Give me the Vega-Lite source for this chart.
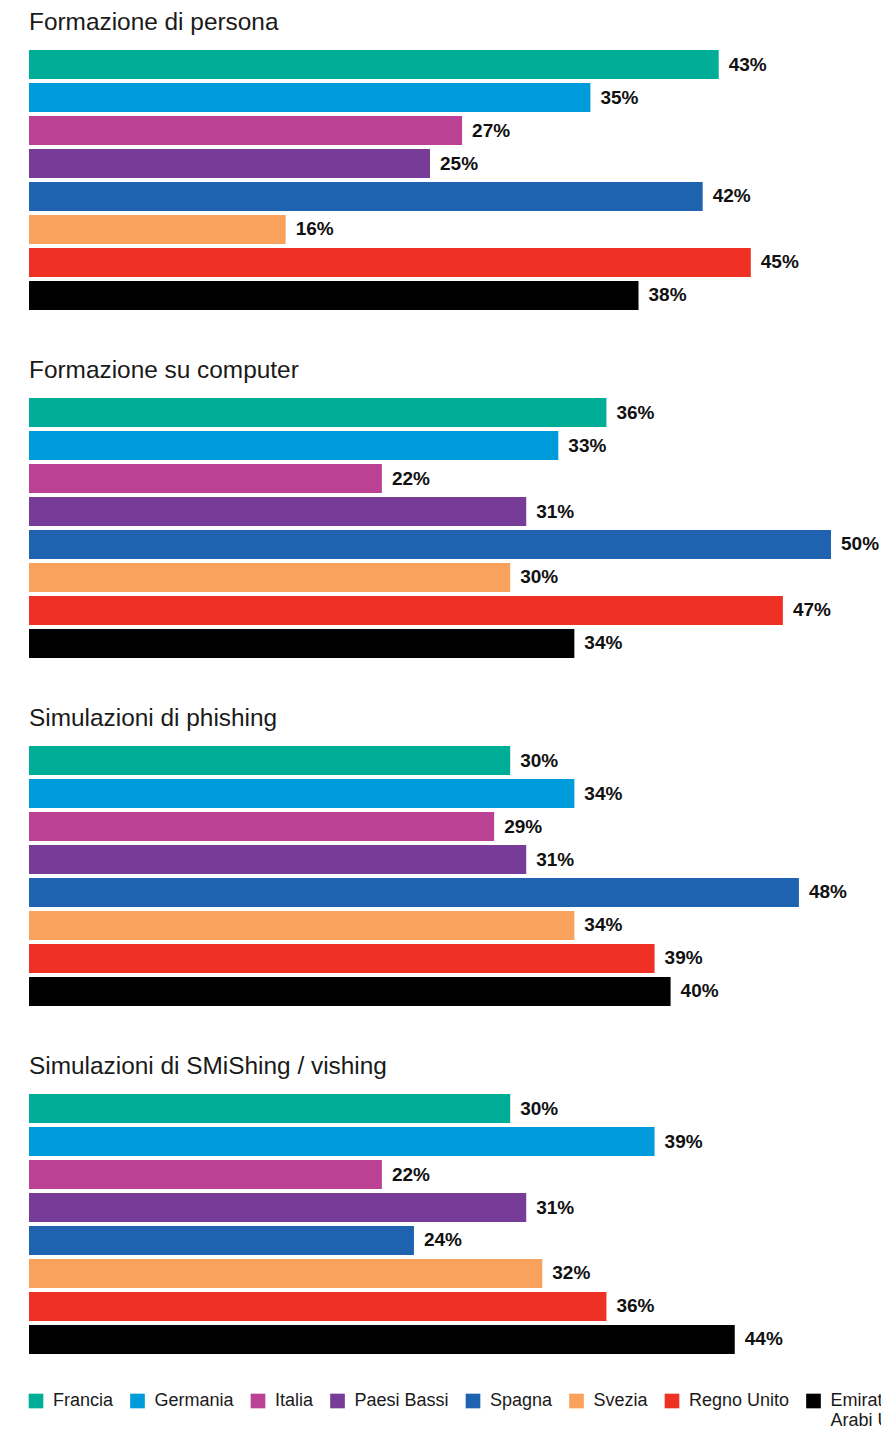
{
  "$schema": "https://vega.github.io/schema/vega-lite/v6.json",
  "padding": {"left": 29, "top": 9, "right": 0, "bottom": 0},
  "background": "white",
  "data": {"values": [
    {"categoria": "Formazione di persona", "paese": "Francia", "valore": 0.43},
    {"categoria": "Formazione di persona", "paese": "Germania", "valore": 0.35},
    {"categoria": "Formazione di persona", "paese": "Italia", "valore": 0.27},
    {"categoria": "Formazione di persona", "paese": "Paesi Bassi", "valore": 0.25},
    {"categoria": "Formazione di persona", "paese": "Spagna", "valore": 0.42},
    {"categoria": "Formazione di persona", "paese": "Svezia", "valore": 0.16},
    {"categoria": "Formazione di persona", "paese": "Regno Unito", "valore": 0.45},
    {"categoria": "Formazione di persona", "paese": "Emirati Arabi Uniti", "valore": 0.38},
    {"categoria": "Formazione su computer", "paese": "Francia", "valore": 0.36},
    {"categoria": "Formazione su computer", "paese": "Germania", "valore": 0.33},
    {"categoria": "Formazione su computer", "paese": "Italia", "valore": 0.22},
    {"categoria": "Formazione su computer", "paese": "Paesi Bassi", "valore": 0.31},
    {"categoria": "Formazione su computer", "paese": "Spagna", "valore": 0.50},
    {"categoria": "Formazione su computer", "paese": "Svezia", "valore": 0.30},
    {"categoria": "Formazione su computer", "paese": "Regno Unito", "valore": 0.47},
    {"categoria": "Formazione su computer", "paese": "Emirati Arabi Uniti", "valore": 0.34},
    {"categoria": "Simulazioni di phishing", "paese": "Francia", "valore": 0.30},
    {"categoria": "Simulazioni di phishing", "paese": "Germania", "valore": 0.34},
    {"categoria": "Simulazioni di phishing", "paese": "Italia", "valore": 0.29},
    {"categoria": "Simulazioni di phishing", "paese": "Paesi Bassi", "valore": 0.31},
    {"categoria": "Simulazioni di phishing", "paese": "Spagna", "valore": 0.48},
    {"categoria": "Simulazioni di phishing", "paese": "Svezia", "valore": 0.34},
    {"categoria": "Simulazioni di phishing", "paese": "Regno Unito", "valore": 0.39},
    {"categoria": "Simulazioni di phishing", "paese": "Emirati Arabi Uniti", "valore": 0.40},
    {"categoria": "Simulazioni di SMiShing / vishing", "paese": "Francia", "valore": 0.30},
    {"categoria": "Simulazioni di SMiShing / vishing", "paese": "Germania", "valore": 0.39},
    {"categoria": "Simulazioni di SMiShing / vishing", "paese": "Italia", "valore": 0.22},
    {"categoria": "Simulazioni di SMiShing / vishing", "paese": "Paesi Bassi", "valore": 0.31},
    {"categoria": "Simulazioni di SMiShing / vishing", "paese": "Spagna", "valore": 0.24},
    {"categoria": "Simulazioni di SMiShing / vishing", "paese": "Svezia", "valore": 0.32},
    {"categoria": "Simulazioni di SMiShing / vishing", "paese": "Regno Unito", "valore": 0.36},
    {"categoria": "Simulazioni di SMiShing / vishing", "paese": "Emirati Arabi Uniti", "valore": 0.44}
  ]},
  "facet": {
    "row": {
      "field": "categoria", "type": "nominal",
      "sort": ["Formazione di persona", "Formazione su computer", "Simulazioni di phishing", "Simulazioni di SMiShing / vishing"],
      "header": {"title": null, "labelOrient": "top", "labelAngle": 0, "labelAlign": "left", "labelAnchor": "start", "labelFontSize": 24.4, "labelFont": "Liberation Sans", "labelColor": "#1a1a1a", "labelPadding": -9}
    }
  },
  "spacing": {"row": 47},
  "spec": {
    "width": 802,
    "height": 260,
    "encoding": {
      "y": {"field": "paese", "type": "nominal", "axis": null,
        "sort": ["Francia", "Germania", "Italia", "Paesi Bassi", "Spagna", "Svezia", "Regno Unito", "Emirati Arabi Uniti"],
        "scale": {"paddingInner": 0.12, "paddingOuter": 0}},
      "x": {"field": "valore", "type": "quantitative", "axis": null, "scale": {"domain": [0, 0.5]}}
    },
    "layer": [
      {"mark": {"type": "bar"},
       "encoding": {"color": {"field": "paese", "type": "nominal",
         "scale": {"domain": ["Francia", "Germania", "Italia", "Paesi Bassi", "Spagna", "Svezia", "Regno Unito", "Emirati Arabi Uniti"],
                   "range": ["#00ae97", "#009bdb", "#bb4195", "#763c97", "#1e62b0", "#f8a25e", "#ee3124", "#000000"]},
         "legend": {"orient": "bottom", "direction": "horizontal", "title": null, "symbolType": "square", "symbolSize": 215, "symbolStrokeWidth": 0, "symbolOpacity": 1, "symbolOffset": -2,
           "labelFontSize": 18, "labelFont": "Liberation Sans", "labelColor": "#1a1a1a", "labelOffset": 8, "columnPadding": 15.5, "offset": 38, "labelLimit": 200, "labelBaseline": "middle",
           "labelExpr": "datum.label == 'Emirati Arabi Uniti' ? ['Emirati', 'Arabi Uniti'] : [datum.label, '']",
           "encoding": {
             "labels": {"update": {"dy": {"value": 11}, "lineHeight": {"value": 22}}},
             "symbols": {"update": {"fill": {"signal": "datum.value == 'Svezia' ? '#f7912e' : scale('color', datum.value)"}}}
           }}}}},
      {"mark": {"type": "text", "align": "left", "dx": 10, "font": "Liberation Sans", "fontWeight": "bold", "fontSize": 19, "color": "#111111"},
       "encoding": {"text": {"field": "valore", "type": "quantitative", "format": ".0%"}}}
    ]
  },
  "config": {"view": {"stroke": null}}
}
